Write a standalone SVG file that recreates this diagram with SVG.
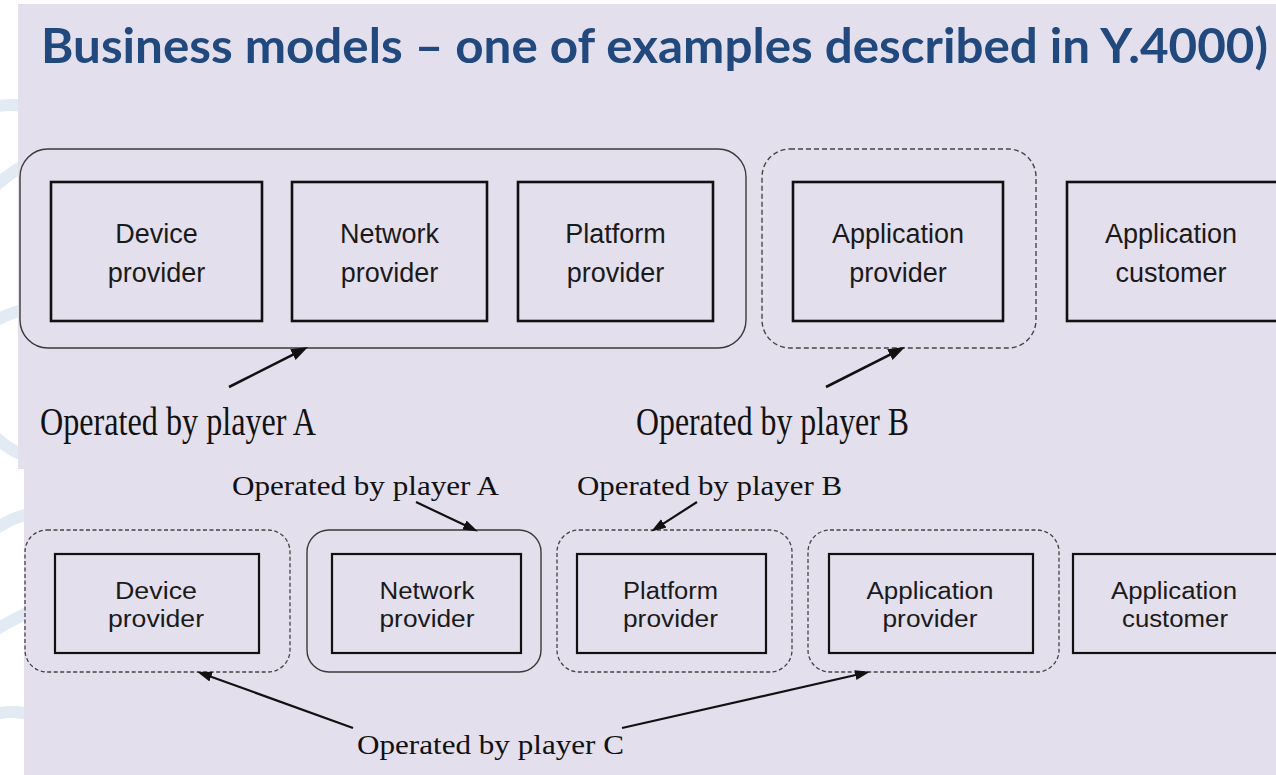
<svg xmlns="http://www.w3.org/2000/svg" width="1276" height="775" viewBox="0 0 1276 775">
  <defs>
    <style>
      .title { font-family: Lato, "Open Sans", "Liberation Sans", sans-serif; font-weight: bold; font-size: 48px; fill: #22497d; }
      .lbl-top { font-family: "Liberation Sans", Arial, sans-serif; font-size: 27px; fill: #1a1a1a; text-anchor: middle; }
      .lbl-bot { font-family: "Liberation Sans", Arial, sans-serif; font-size: 23px; fill: #1a1a1a; text-anchor: middle; }
      .note { font-family: "Liberation Serif", "Times New Roman", serif; fill: #111; }
      .box-top { fill: none; stroke: #111; stroke-width: 2.6; }
      .box-bot { fill: none; stroke: #111; stroke-width: 2.2; }
      .grp-solid { fill: none; stroke: #3a3a3a; stroke-width: 1.4; }
      .grp-dash-top { fill: none; stroke: #444; stroke-width: 1.4; stroke-dasharray: 5 3; }
      .grp-dash-bot { fill: none; stroke: #444; stroke-width: 1.3; stroke-dasharray: 4 2.5; }
      .arrow-top { stroke: #111; stroke-width: 2.6; fill: none; marker-end: url(#headTop); }
      .arrow-bot { stroke: #111; stroke-width: 2.2; fill: none; marker-end: url(#headBot); }
      .deco { fill: none; stroke: #e2eaf4; stroke-width: 12; stroke-linecap: round; }
    </style>
    <marker id="headTop" markerUnits="userSpaceOnUse" markerWidth="18" markerHeight="13" refX="8" refY="6" orient="auto">
      <path d="M0,0 L17,6 L0,12 Z" fill="#111"/>
    </marker>
    <marker id="headBot" markerUnits="userSpaceOnUse" markerWidth="16" markerHeight="11" refX="6" refY="5" orient="auto">
      <path d="M0,0 L15,5 L0,10 Z" fill="#111"/>
    </marker>
    <clipPath id="stripClip">
      <rect x="0" y="0" width="26" height="775"/>
    </clipPath>
  </defs>

  <!-- page -->
  <rect x="0" y="0" width="1276" height="775" fill="#ffffff"/>

  <!-- faint watermark swirl along the left edge -->
  <g clip-path="url(#stripClip)">
    <path class="deco" d="M-20,110 Q30,95 60,125"/>
    <path class="deco" d="M-20,200 Q20,160 60,150"/>
    <path class="deco" d="M-20,330 Q25,300 60,310"/>
    <path class="deco" d="M-20,420 Q20,470 60,455"/>
    <path class="deco" d="M-20,540 Q30,500 60,520"/>
    <path class="deco" d="M-20,640 Q25,610 60,600"/>
    <path class="deco" d="M-20,720 Q20,700 60,730"/>
  </g>

  <!-- panels -->
  <rect x="18" y="4" width="1258" height="465" fill="#e4dfec"/>
  <rect x="24" y="469" width="1252" height="306" fill="#e4dfec"/>

  <!-- heading -->
  <text class="title" x="41" y="63" textLength="1227" lengthAdjust="spacingAndGlyphs">Business models – one of examples described in Y.4000)</text>

  <!-- ===== first model ===== -->
  <g id="top-group-A">
    <rect class="grp-solid" x="20" y="149" width="726" height="199" rx="28" ry="28"/>
  </g>
  <g id="top-group-B">
    <rect class="grp-dash-top" x="762" y="149" width="274" height="199" rx="28" ry="28"/>
  </g>

  <g id="top-device">
    <rect class="box-top" x="51" y="182" width="211" height="139"/>
    <text class="lbl-top" x="156.5" y="243">Device</text>
    <text class="lbl-top" x="156.5" y="282">provider</text>
  </g>
  <g id="top-network">
    <rect class="box-top" x="292" y="182" width="195" height="139"/>
    <text class="lbl-top" x="389.5" y="243">Network</text>
    <text class="lbl-top" x="389.5" y="282">provider</text>
  </g>
  <g id="top-platform">
    <rect class="box-top" x="518" y="182" width="195" height="139"/>
    <text class="lbl-top" x="615.5" y="243">Platform</text>
    <text class="lbl-top" x="615.5" y="282">provider</text>
  </g>
  <g id="top-app-provider">
    <rect class="box-top" x="793" y="182" width="210" height="139"/>
    <text class="lbl-top" x="898" y="243">Application</text>
    <text class="lbl-top" x="898" y="282">provider</text>
  </g>
  <g id="top-app-customer">
    <rect class="box-top" x="1067" y="182" width="220" height="139"/>
    <text class="lbl-top" x="1171" y="243">Application</text>
    <text class="lbl-top" x="1171" y="282">customer</text>
  </g>

  <g id="top-notes">
    <text class="note" x="40" y="435" font-size="40" textLength="276" lengthAdjust="spacingAndGlyphs">Operated by player A</text>
    <text class="note" x="636" y="435" font-size="40" textLength="273" lengthAdjust="spacingAndGlyphs">Operated by player B</text>
  </g>

  <!-- ===== second model ===== -->
  <g id="bot-group-device">
    <rect class="grp-dash-bot" x="25" y="530" width="265" height="142" rx="22" ry="22"/>
  </g>
  <g id="bot-group-network">
    <rect class="grp-solid" x="307" y="530" width="234" height="142" rx="22" ry="22"/>
  </g>
  <g id="bot-group-platform">
    <rect class="grp-dash-bot" x="557" y="530" width="235" height="142" rx="22" ry="22"/>
  </g>
  <g id="bot-group-app">
    <rect class="grp-dash-bot" x="808" y="530" width="251" height="142" rx="22" ry="22"/>
  </g>

  <g id="bot-device">
    <rect class="box-bot" x="55" y="554" width="204" height="99"/>
    <text class="lbl-bot" x="156" y="599" textLength="82" lengthAdjust="spacingAndGlyphs">Device</text>
    <text class="lbl-bot" x="156" y="627" textLength="96" lengthAdjust="spacingAndGlyphs">provider</text>
  </g>
  <g id="bot-network">
    <rect class="box-bot" x="332" y="554" width="189" height="99"/>
    <text class="lbl-bot" x="427" y="599" textLength="95" lengthAdjust="spacingAndGlyphs">Network</text>
    <text class="lbl-bot" x="427" y="627" textLength="95" lengthAdjust="spacingAndGlyphs">provider</text>
  </g>
  <g id="bot-platform">
    <rect class="box-bot" x="577" y="554" width="189" height="99"/>
    <text class="lbl-bot" x="670.5" y="599" textLength="95" lengthAdjust="spacingAndGlyphs">Platform</text>
    <text class="lbl-bot" x="670.5" y="627" textLength="95" lengthAdjust="spacingAndGlyphs">provider</text>
  </g>
  <g id="bot-app-provider">
    <rect class="box-bot" x="829" y="554" width="204" height="99"/>
    <text class="lbl-bot" x="930" y="599" textLength="127" lengthAdjust="spacingAndGlyphs">Application</text>
    <text class="lbl-bot" x="930" y="627" textLength="95" lengthAdjust="spacingAndGlyphs">provider</text>
  </g>
  <g id="bot-app-customer">
    <rect class="box-bot" x="1073" y="554" width="220" height="99"/>
    <text class="lbl-bot" x="1174" y="599" textLength="126" lengthAdjust="spacingAndGlyphs">Application</text>
    <text class="lbl-bot" x="1175" y="627" textLength="106" lengthAdjust="spacingAndGlyphs">customer</text>
  </g>

  <g id="bot-notes">
    <text class="note" x="232" y="495" font-size="27" textLength="267" lengthAdjust="spacingAndGlyphs">Operated by player A</text>
    <text class="note" x="577" y="495" font-size="27" textLength="265" lengthAdjust="spacingAndGlyphs">Operated by player B</text>
    <text class="note" x="357" y="754" font-size="27" textLength="267" lengthAdjust="spacingAndGlyphs">Operated by player C</text>
  </g>

  <!-- connectors -->
  <g id="connectors">
    <line class="arrow-top" x1="229" y1="387" x2="300" y2="351.1"/>
    <line class="arrow-top" x1="826" y1="387" x2="897" y2="351.1"/>
    <line class="arrow-bot" x1="416" y1="502" x2="469.8" y2="527.6"/>
    <line class="arrow-bot" x1="697" y1="502" x2="658.7" y2="526.7"/>
    <line class="arrow-bot" x1="353" y1="728" x2="205.5" y2="674.7"/>
    <line class="arrow-bot" x1="622" y1="728" x2="861.2" y2="673.8"/>
  </g>
</svg>
